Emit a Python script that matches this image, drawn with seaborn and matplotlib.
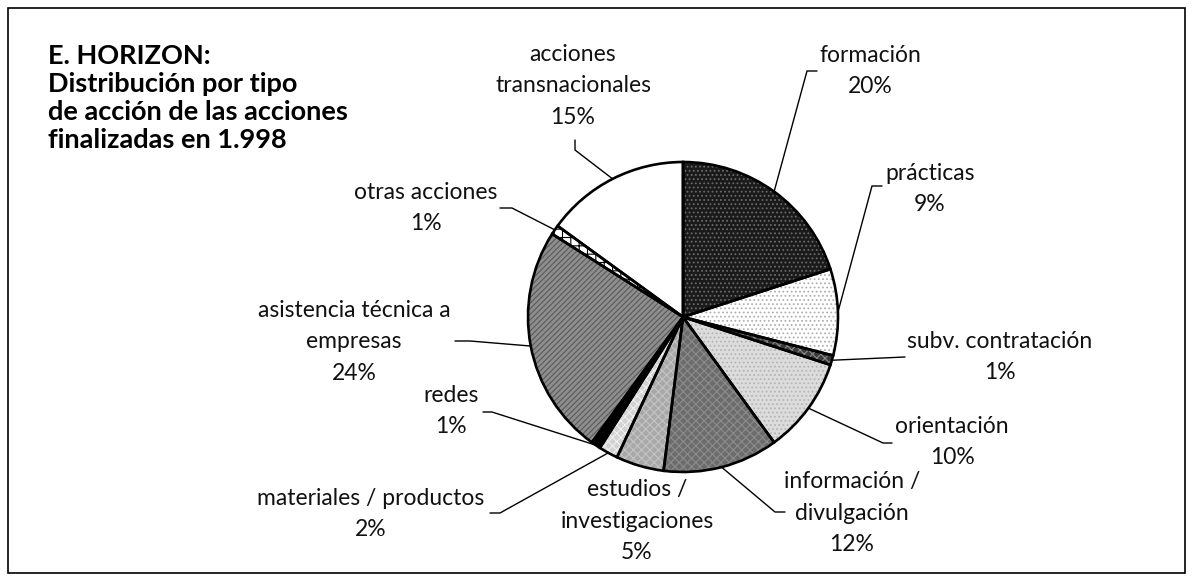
import matplotlib
matplotlib.use("Agg")
import matplotlib.pyplot as plt
from matplotlib.patches import Rectangle
import numpy as np
import seaborn as sns

# data
categorias = ["formación", "prácticas", "subv. contratación", "orientación",
              "información /\ndivulgación", "estudios /\ninvestigaciones",
              "materiales / productos", "redes", "asistencia técnica a\nempresas",
              "otras acciones", "acciones\ntransnacionales"]
porcentajes = [20, 9, 1, 10, 12, 5, 2, 1, 24, 1, 15]
titulo = "E. HORIZON:\nDistribución por tipo\nde acción de las acciones\nfinalizadas en 1.998"

# styling per slice: face colour, hatch, hatch colour
caras = ["#1a1a1a", "#ffffff", "#3a3a3a", "#dcdcdc", "#6c6c6c", "#a8a8a8",
         "#d2d2d2", "#000000", "#8e8e8e", "#ffffff", "#ffffff"]
tramas = ["....", "....", "xxxx", "....", "xxxx", "xxxx", "xxxx", "", "//////", "++", ""]
color_trama = ["#6a6a6a", "#b0b0b0", "#8a8a8a", "#b4b4b4", "#8c8c8c", "#c4c4c4",
               "#f0f0f0", "#000000", "#5a5a5a", "#000000", "#ffffff"]

# label layout in pixels (x, y from top): text centre, elbow, tick end
W, H = 1192, 580
centro_px = (683, 317)
radio = 155
pos_texto = [(870, 71), (930, 189), (1000, 357), (952, 442), (852, 513), (637, 521),
             (371, 514), (451, 411), (354, 342), (426, 208), (573, 86)]
codo = [(807, 71), (872, 186), (905, 357), (883, 443), (775, 512), None,
        (500, 513), (492, 412), (470, 341), (512, 208), (575, 150)]
punta = [(817, 71), (882, 186), (905, 357), (892, 443), (785, 512), None,
         (490, 513), (483, 412), (455, 341), (500, 208), (575, 140)]

sns.set_theme(style="white")
plt.rcParams["font.family"] = ["Lato", "DejaVu Sans"]
plt.rcParams["hatch.linewidth"] = 0.8

fig = plt.figure(figsize=(W / 100, H / 100), dpi=100)
ax = fig.add_axes([0, 0, 1, 1])

cx, cy = centro_px[0], H - centro_px[1]

# fill + hatch pass
cunas, _ = ax.pie(porcentajes, startangle=90, counterclock=False, center=(cx, cy),
                  radius=radio, colors=caras, hatch=tramas,
                  wedgeprops=dict(linewidth=0), frame=True)
for w, c in zip(cunas, color_trama):
    w.set_edgecolor(c)

# outline pass
bordes, _ = ax.pie(porcentajes, startangle=90, counterclock=False, center=(cx, cy),
                   radius=radio, colors=["none"] * len(porcentajes),
                   wedgeprops=dict(edgecolor="black", linewidth=1.9, fill=False), frame=True)

ax.set_xlim(0, W)
ax.set_ylim(0, H)
ax.set_aspect("equal")
ax.axis("off")

for i, w in enumerate(bordes):
    tx, ty = pos_texto[i]
    ax.text(tx, H - ty, f"{categorias[i]}\n{porcentajes[i]}%", ha="center", va="center",
            fontsize=16.5, color="#111111", linespacing=1.62)
    if codo[i] is None:
        continue
    ang = np.deg2rad((w.theta1 + w.theta2) / 2)
    x0 = cx + radio * np.cos(ang)
    y0 = cy + radio * np.sin(ang)
    xs = [x0, codo[i][0], punta[i][0]]
    ys = [y0, H - codo[i][1], H - punta[i][1]]
    ax.plot(xs, ys, color="black", linewidth=1, zorder=0.5)

ax.text(48, H - 97.5, titulo, ha="left", va="center", fontsize=19.5, fontweight="bold",
        color="black", linespacing=1.2)

ax.add_patch(Rectangle((8, 7), 1177, 565, fill=False, edgecolor="black", linewidth=1.2))

fig.savefig("out.png", dpi=100)
